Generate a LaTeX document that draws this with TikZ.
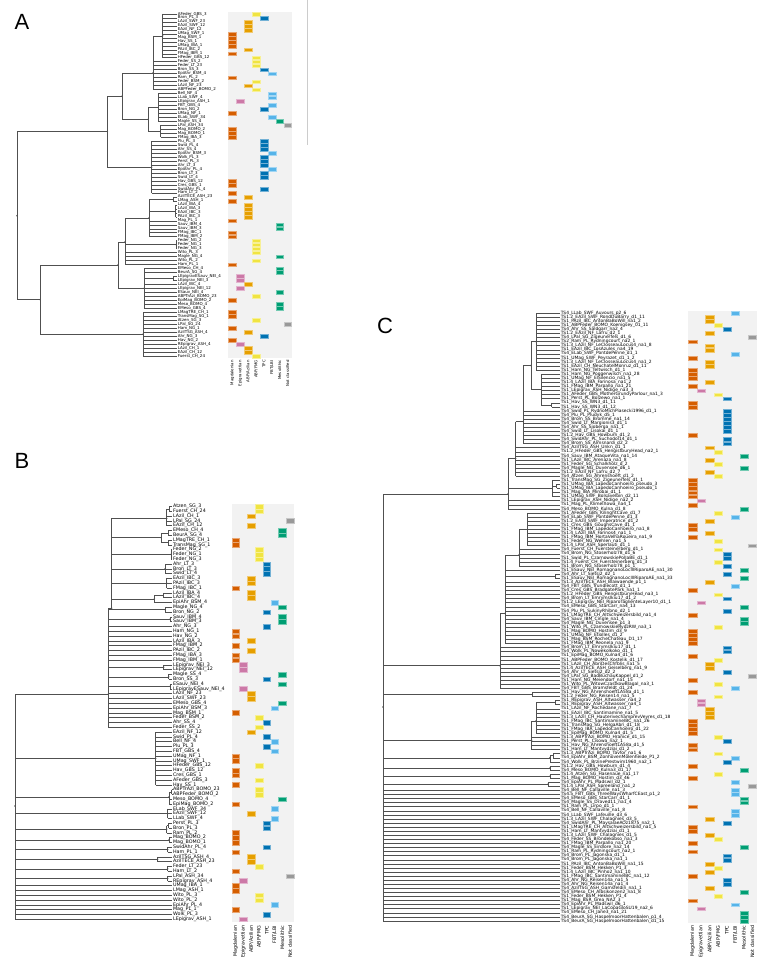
\documentclass[tikz,border=0pt]{standalone}
\usepackage{fontspec}
\setmainfont{DejaVu Sans}
\newfontfamily\letterfont{Liberation Sans}
\definecolor{hc1}{HTML}{D55E00}
\definecolor{hc2}{HTML}{CC79A7}
\definecolor{hc3}{HTML}{E69F00}
\definecolor{hc4}{HTML}{F0E442}
\definecolor{hc5}{HTML}{0072B2}
\definecolor{hc6}{HTML}{56B4E9}
\definecolor{hc7}{HTML}{009E73}
\definecolor{hc8}{HTML}{999999}
\definecolor{treec}{HTML}{505050}
\definecolor{hbg}{HTML}{F2F2F2}
\newcommand\lfA[3]{\foreach \k in {#2,...,#3}{\draw[tree] (#1,{yA(\k)}) -- (177,{yA(\k)});}}
\newcommand\lfB[3]{\foreach \k in {#2,...,#3}{\draw[tree] (#1,{yB(\k)}) -- (172.3,{yB(\k)});}}
\newcommand\lfC[3]{\foreach \k in {#2,...,#3}{\draw[tree] (#1,{yC(\k)}) -- (560,{yC(\k)});}}
\newcommand\grA[3]{\lfA{#1}{#2}{#3}\draw[tree] (#1,{yA(#2)}) -- (#1,{yA(#3)});}
\newcommand\grB[3]{\lfB{#1}{#2}{#3}\draw[tree] (#1,{yB(#2)}) -- (#1,{yB(#3)});}
\newcommand\grC[3]{\lfC{#1}{#2}{#3}\draw[tree] (#1,{yC(#2)}) -- (#1,{yC(#3)});}
\newcommand\vl[3]{\draw[tree] (#1,{#2}) -- (#1,{#3});}
\newcommand\hl[3]{\draw[tree] (#1,{#3}) -- (#2,{#3});}
\newcommand\jn[5]{\draw[tree] (#2,{#3}) -- (#1,{#3}) -- (#1,{#5}) -- (#4,{#5});}
\newcommand\dt[2]{\fill[treec] (#1,{#2}) circle (0.8);}
\begin{document}
\catcode`\_=12
\begin{tikzpicture}[x=1pt,y=-1pt,
  declare function={yA(\r)=12+3.977*(\r+0.5); yB(\r)=504+4.8*(\r+0.5); yC(\r)=311+4.08*(\r+0.5);},
  tree/.style={draw=treec, line width=0.5pt},
  labA/.style={anchor=west, inner sep=0.3pt, font=\fontsize{4}{4}\selectfont},
  labB/.style={anchor=west, inner sep=0.3pt, font=\fontsize{4.8}{4.8}\selectfont},
  labC/.style={anchor=west, inner sep=0.3pt, font=\fontsize{4.4}{4.4}\selectfont},
  colA/.style={rotate=90, anchor=east, inner sep=0pt, font=\fontsize{3.9}{3.9}\selectfont},
  colB/.style={rotate=90, anchor=east, inner sep=0pt, font=\fontsize{4.8}{4.8}\selectfont},
  panel/.style={font=\letterfont\fontsize{22}{22}\selectfont, inner sep=0pt}]
\useasboundingbox (0,0) rectangle (758,959);
\fill[white] (0,0) rectangle (758,959);
\draw[gray!40, line width=0.5pt] (307,0) -- (307,145);
% ---------------- panel letters
\node[panel] (pA) at (22,22) {A};
\node[panel] (pB) at (22,461) {B};
\node[panel] (pC) at (385,326) {C};
% ---------------- heatmap backgrounds
\fill[hbg] (228.3,12) rectangle (292.3,358);
\fill[hbg] (231.7,504) rectangle (294,921.6);
\fill[hbg] (688.3,311) rectangle (756.7,923);
% ---------------- panel A rows
\foreach \lab/\cc [count=\i from 0] in {AFeder_GBS_3/4, Bron_PL_3/5, LAzil_SWF_23/3, EAzil_SWF_12/3, EAzil_NF_12/3, UMag_SWF_1/1, Mag_BSM_1/1, Hav_SS_1/1, UMag_IBA_1/1, PAzil_IBC_2/3, FMag_IBM_1/1, HFeder_GBS_12/4, Feder_SS_2/4, Feder_LT_23/4, Bron_SS_3/5, EpiAhr_BSM_4/6, Ram_PL_2/1, Feder_BSM_2/4, LAzil_NF_23/3, ABPFeder_BOMO_2/4, Bell_NF_4/6, LLab_SWF_4/6, LEpigrav_ASH_1/2, FBT_GBS_4/6, Bron_NG_2/5, UMag_NF_1/1, ELab_SWF_34/6, Magle_SS_4/7, LPal_ASH_34/8, Mag_BOMO_2/1, Mag_BOMO_1/1, FMag_IBA_3/1, Plu_PL_3/5, Swid_PL_4/5, Ahr_SS_4/5, EpiAhr_BSM_3/6, Wolk_PL_3/5, Perst_PL_3/5, Ahr_LT_3/5, EpiAhr_PL_4/6, Bron_LT_3/5, Swid_LT_4/5, Hav_GBS_12/1, Cres_GBS_1/1, SwidAhr_PL_4/5, Ham_LT_2/1, AzilTECE_ASH_23/3, LMag_ASH_1/1, LAzil_IBA_4/3, LAzil_IBA_3/3, EAzil_IBC_3/3, PAzil_IBC_3/3, Mag_PL_1/1, Sauv_IBM_4/7, Sauv_IBM_3/7, FMag_IBC_1/1, FMag_IBM_2/1, Feder_NG_2/4, Feder_NG_1/4, Feder_NG_3/4, Wito_PL_3/4, Magle_NG_4/7, Wito_PL_2/4, Ham_PL_1/1, EMeso_CH_4/7, BeurA_SG_4/7, LEpigravESauv_NEI_4/2, LEpigrav_NEI_3/2, LAzil_IBC_4/3, LEpigrav_NEI_12/2, ESauv_NEI_4/7, ABPTrAzi_BOMO_23/4, EpiMag_BOMO_2/1, Meso_BOMO_4/7, EMeso_GBS_4/7, LMagTRE_CH_1/1, TransMag_SG_1/1, Atzen_SG_3/4, LPal_SG_24/8, Ham_NG_1/1, AzilTSG_ASH_4/3, Ahr_NG_3/5, Hav_NG_2/1, REpigrav_ASH_4/2, LAzil_CH_1/3, EAzil_CH_12/3, Fuerst_CH_24/4}{
  \node[labA] (a\i) at (177.3,{yA(\i)}) {\lab};
  \fill[hc\cc, draw=hc\cc!55!white, line width=0.3pt] ({228.3+7.92*(\cc-1)+0.15},{yA(\i)-1.85}) rectangle ++(7.62,3.7);
}
% ---------------- panel B rows
\foreach \lab/\cc [count=\i from 0] in {Atzen_SG_3/4, Fuerst_CH_24/4, LAzil_CH_1/3, LPal_SG_24/8, EAzil_CH_12/3, EMeso_CH_4/7, BeurA_SG_4/7, LMagTRE_CH_1/1, TransMag_SG_1/1, Feder_NG_2/4, Feder_NG_1/4, Feder_NG_3/4, Ahr_LT_3/5, Bron_LT_3/5, Swid_LT_4/5, EAzil_IBC_3/3, PAzil_IBC_3/3, FMag_IBC_1/1, LAzil_IBA_4/3, LAzil_IBC_4/3, EpiAhr_BSM_4/6, Magle_NG_4/7, Bron_NG_2/5, Sauv_IBM_4/7, Sauv_IBM_3/7, Ahr_NG_3/5, Ham_NG_1/1, Hav_NG_2/1, LAzil_IBA_3/3, FMag_IBM_2/1, PAzil_IBC_2/3, FMag_IBA_3/1, FMag_IBM_1/1, LEpigrav_NEI_3/2, LEpigrav_NEI_12/2, Magle_SS_4/7, Bron_SS_3/5, ESauv_NEI_4/7, LEpigravESauv_NEI_4/2, LAzil_NF_23/3, LAzil_SWF_23/3, EMeso_GBS_4/7, EpiAhr_BSM_3/6, Mag_BSM_1/1, Feder_BSM_2/4, Ahr_SS_4/5, Feder_SS_2/4, EAzil_NF_12/3, Swid_PL_4/5, Bell_NF_4/6, Plu_PL_3/5, FBT_GBS_4/6, UMag_NF_1/1, UMag_SWF_1/1, HFeder_GBS_12/4, Hav_GBS_12/1, Cres_GBS_1/1, AFeder_GBS_3/4, Hav_SS_1/1, ABPTrAzi_BOMO_23/4, ABPFeder_BOMO_2/4, Meso_BOMO_4/7, EpiMag_BOMO_2/1, ELab_SWF_34/6, EAzil_SWF_12/3, LLab_SWF_4/6, Perst_PL_3/5, Bron_PL_3/5, Ram_PL_2/1, Mag_BOMO_2/1, Mag_BOMO_1/1, SwidAhr_PL_4/5, Ham_PL_1/1, AzilTSG_ASH_4/3, AzilTECE_ASH_23/3, Feder_LT_23/4, Ham_LT_2/1, LPal_ASH_34/8, REpigrav_ASH_4/2, UMag_IBA_1/1, LMag_ASH_1/1, Wito_PL_3/4, Wito_PL_2/4, EpiAhr_PL_4/6, Mag_PL_1/1, Wolk_PL_3/5, LEpigrav_ASH_1/2}{
  \node[labB] (b\i) at (172.6,{yB(\i)}) {\lab};
  \fill[hc\cc, draw=hc\cc!55!white, line width=0.3pt] ({231.7+7.79*(\cc-1)+0.15},{yB(\i)-2.25}) rectangle ++(7.49,4.5);
}
% ---------------- panel C rows
\foreach \lab/\cc [count=\i from 0] in {TS4_LLab_SWF_Auvours_p2_6/6, TS1.2_EAzil_SWF_RondDuBarry_d1_11/3, TS1_PAzil_IBC_AntonBaBoWill_na1_2/3, TS1_ABPFeder_BOMO_Koenigsey_01_11/4, TS4_Ahr_SS_Saldgarr_na2_4/5, TS1.2_EAzil_NF_Lafru_d2_1/3, TS4_LPal_SG_Zigeunerfels_d1_6/8, TS2_Ram_PL_Rydningcourt_na2_1/1, TS1.3_LAzil_NF_LeClosseauLocus4_na1_8/3, TS1_EAzil_IBC_LosAzules_na4_19/3, TS4_ELab_SWF_PontdePenne_d1_1/6, TS1_UMag_SWF_Peyrazet_d1_1_2/1, TS1.3_LAzil_NF_LeClosseauLocus4_na1_2/3, TS1_EAzil_CH_NeuchatelMonruz_d1_11/3, TS1_Ham_NG_Teltwisch_d1_1/1, TS1_Ham_NG_Poggenwisch_na1_28/1, TS1_UMag_NF_ElSilencio_na1_5/1, TS1.4_LAzil_IBA_Farinosa_na1_2/3, TS1_FMag_IBM_Parpallo_na1_21/1, TS1_LEpigrav_ASH_Nidige_na3_3/2, TS1_AFeder_GBS_MotherGrundyParlour_na1_3/4, TS1_Perst_PL_Bolzewo_na1_1/5, TS1_Hav_SS_WN3_d1_11/1, TS1_Hav_SS_WN3_d1_12/1, TS4_Swid_PL_RydnoMichPiasecki1996_d1_1/5, TS4_Plu_PL_Pludyk_d5_1/5, TS4_Brom_SS_Bromme_na1_14/5, TS4_Swid_LT_Margionis3_d1_1/5, TS4_Ahr_SS_Sjoberga_na1_1/5, TS4_Swid_LT_Lisokai_d1_1/5, TS1.2_Hav_GBS_Howburn_d1_2/1, TS4_SwidAhr_PL_Suchodol14_d1_1/5, TS4_Brom_SS_Almsnardi_d2_2/5, TS4_AzilTSG_ASH_Unkn_d1_1/3, TS1.2_HFeder_GBS_HengistburyHead_na2_1/4, TS4_Sauv_IBM_AtaqueVita_na1_14/7, TS1_LAzil_IBC_Arenaza_na1_8/3, TS1_Feder_SG_Schalkholz_d_2/4, TS4_Magle_NG_Duvensee_d6_1/7, TS1.2_EAzil_NF_Lafru_d2_7/3, TS4_Atzen_SG_Ahrenshoeft_d1_2/4, TS1_TransMag_SG_Zigeunerfels_d1_1/1, TS1_UMag_IBA_LapedoCanhoeiro_pseudo_3/1, TS1_UMag_IBA_LapedoCanhoeiro_pseudo_1/1, TS1_Mag_IBA_Mirobai_d1_1/1, TS1_UMag_SWF_Bolsavelbin_d2_11/1, TS1_LEpigrav_ASH_Nidige_na2_2/2, TS1_Mag_PL_KlimelXowa_na4_1/1, TS4_Meso_BOMO_Kulna_d1_8/7, TS1_AFeder_GBS_KilinghtCave_d1_7/4, TS4_ELab_SWF_PontdePenne_d1_3/6, TS1.2_EAzil_SWF_Imperatrice_d1_2/3, TS1_Cres_GBS_GoughsCave_d1_1/1, TS1_FMag_IBM_LapedoCanhoeiro_na1_8/1, TS1.4_LAzil_IBA_Farinos4_na1_1/3, TS1_FMag_IBM_HortaVelhaRoueira_na1_9/1, TS1_Feder_NG_Wehlen_na1_5/4, TS1.4_LPal_ASH_Sperlauti_d1_1/8, TS4_Fuerst_CH_Fuersteinerberg_d1_1/4, TS4_Brom_NG_Stoserholz78_d1_6/5, TS1_Swid_PL_CzarnowskiePolJaBE_d1_1/5, TS1.4_Fuerst_CH_Fuersteinerberg_d1_3/4, TS1_Brom_NG_Stoserholz78_p1_1/5, TS1_ESauv_NEI_RomagnanoLocIIIRiparoAE_na1_30/7, TS4_Ahr_LT_Sietsj2_d2_1/5, TS1_ESauv_NEI_RomagnanoLocIIIRiparoAE_na1_33/7, TS1.3_AzilTECE_ASH_Blaiwaende_p1_1/3, TS4_FBT_GBS_Trundlecott_d1_1/6, TS4_Cres_GBS_BradgatePark_na1_1/1, TS1.2_HFeder_GBS_HengistburyHead_na3_1/4, TS4_Brom_LT_Emrymslkiu17_d1_2/5, TS1.2_LEpigrav_NEI_RiparoTaglienteLayer10_d1_1/2, TS4_EMeso_GBS_StarCarr_na4_13/7, TS4_Plu_PL_SukinyRhibno_d2_1/5, TS1_LMagTRE_CH_AltSchweizersbild_na1_4/1, TS4_Sauv_IBM_Cingle_na1_4/7, TS4_Magle_NG_Duvensee_p1_3/7, TS1_Wito_PL_CzarnowskieRydzRW_na3_1/4, TS1_Mag_BOMO_Hostim_d3_9/1, TS1_UMag_NF_Etiolles_d1_2/1, TS1_Mag_BSM_RocheChateau_D1_17/1, TS1_FMag_IBM_Reonela_na1_9/1, TS4_Brom_LT_Emrymslkiu17_d1_1/5, TS4_Wolk_PL_Nowekolkoko_d1_1/5, TS1_EpiMag_BOMO_Kulna4_d1_6/1, TS1_ABPFeder_BOMO_Kostelik_d1_17/4, TS1_LAzil_CH_AbriDesChfblis_na1_5/3, TS1.4_AzilTECE_ASH_Geiselberg_na1_9/3, TS4_Ahr_LT_Sietsj2_d2_2/5, TS4_LPal_SG_BadBuchauKappel_d1_2/8, TS1_Ham_NG_Meiendorf_na1_15/1, TS1_Wito_PL_WitowCzastkowBlagal_na3_1/4, TS4_FBT_GBS_Bramsfeldt_d1_24/6, TS1_Hav_NG_AhrenshoeftLA58a_d1_1/1, TS1.2_Feder_NG_Reisen14_na1_5/4, TS1_REpigrav_ASH_Altwasser_na4_2/2, TS1_REpigrav_ASH_Altwasser_na4_1/2, TS1_LAzil_NF_Rochedane_na1_7/3, TS1_EAzil_IBC_Santimamine_na1_5/3, TS1.3_LAzil_CH_HauterivechamprevVeyres_d1_18/3, TS1_FMag_IBC_SantimamineIBC_na1_26/1, TS1_TransMag_SG_HelgaAbri_d1_18/1, TS1_FMag_IBA_LapedoCanhoeiro_d1_22/1, TS1_EpiMag_BOMO_Kulna4_d1_5/1, TS1.3_ABPTrAzi_BOMO_Hranice_d1_15/4, TS1_Perst_PL_Cisowa_na2_1/5, TS1_Hav_NG_AhrenshoeftLA58a_d1_5/1, TS1_Ham_LT_Mantvydziai_d1_2/1, TS1.3_ABPTrAzi_BOMO_Tavfor_na1_6/4, TS4_EpiAhr_BSM_ZonhovenMolenheide_P1_2/6, TS4_Wolk_PL_BrzinePrestwim1960_na2_1/5, TS1.2_Hav_GBS_Howburn_d1_4/1, TS4_Meso_BOMO_Kulna3_d1_17/7, TS1.4_Atzen_SG_Hasenaue_na1_17/4, TS1_Mag_BOMO_Hostim_d3_46/1, TS4_EpiAhr_PL_Madswil_d2_1/6, TS1.4_LPal_ASH_Spreeland_na1_2/8, TS4_Bell_NF_Callaville_na1_3/6, TS4.5_FBT_GBS_ThreeWaysWharfCEast_p1_2/6, TS4_EMeso_GBS_StarCarr_d1_1/7, TS4_Magle_SS_Draved11_na1_4/7, TS1_Ram_PL_Lirpo_d1_1/1, TS4_Bell_NF_Callaville_na1_8/6, TS4_LLab_SWF_Lafeuille_d3_6/6, TS1.3_LAzil_SWF_Chalagnies_d3_5/3, TS4_SwidAhr_PL_MaysalaeAOz1875_na2_1/5, TS1_LMagTRE_CH_AltSchweizersbild_na1_5/1, TS1_Ham_LT_Mantvydziai_d1_1/1, TS1.3_LAzil_SWF_Chalagnies_d1_5/3, TS4_Feder_SS_Brondekobso_na1_3/4, TS1_FMag_IBM_Parpallo_na1_20/1, TS4_Magle_SS_Eirdlore_na2_14/7, TS1_Ram_PL_Rydningcourt_na2_1/1, TS4_Brom_PL_Jagonska_d1_1/5, TS4_Brom_PL_Jagonska_na1_1/5, TS1_PAzil_IBC_AntonBaBoWill_na1_15/3, TS1_Feder_BSM_Hekken_P1_3/4, TS1.4_LAzil_IBC_Pinho2_na1_10/3, TS1_FMag_IBC_SantimamineIBC_na1_12/1, TS4_Ahr_NG_Reisen14a_na1_5/5, TS4_Ahr_NG_Reisen14a_na1_4/5, TS4_AzilTSG_ASH_Gamsfeldin_na1_1/3, TS4_EMeso_CH_Albsikonzen2_na1_8/7, TS1_Feder_BSM_Hekken_P1_4/4, TS1_Mag_BSR_Grea_NA2_3/1, TS4_EpiAhr_PL_Madswil_d6_1/6, TS1_LEpigrav_NEI_LaCopaGloSU19_na2_6/2, TS4_EMeso_CH_Jane3_na1_21/7, TS4_BeurA_SG_HaspelmoorHattenbalen_p1_4/7, TS4_BeurA_SG_HaspelmoorHattenbalen_d1_15/7}{
  \node[labC] (c\i) at (560.3,{yC(\i)}) {\lab};
  \fill[hc\cc, draw=hc\cc!55!white, line width=0.3pt] ({688.3+8.55*(\cc-1)+0.15},{yC(\i)-1.9}) rectangle ++(8.25,3.8);
}
% ---------------- column labels
\foreach \n [count=\c] in {Magdalenian, Epigravettian, {ABP/Azilian}, {ABP/FMG}, TPC, {FBT/LBI}, Mesolithic, {Not classified}}{
  \node[colA] (ka\c) at ({228.3+7.92*(\c-0.5)},360) {\n};
  \node[colB] (kb\c) at ({231.7+7.79*(\c-0.5)},925.5) {\n};
  \node[colB] (kc\c) at ({688.3+8.55*(\c-0.5)},925.5) {\n};
}
% ================= tree A
\grA{162.7}{0}{11}
\lfA{153}{12}{19} \hl{153}{162.7}{yA(5.5)} \vl{153}{yA(5.5)}{yA(19)}
\grA{158}{20}{27}
\grA{160.7}{28}{31}
\jn{148}{158}{yA(23.5)}{160.7}{yA(29.5)}
\jn{122}{153}{73}{148}{yA(26.5)}
\grA{151.7}{32}{45}
\jn{107.3}{122}{96.2}{151.7}{yA(38.5)}
\grA{173.3}{46}{47}
\grA{175.7}{48}{51}
\jn{149}{173.3}{yA(46.5)}{175.7}{yA(49.5)} \lfA{149}{52}{56} \vl{149}{yA(49.5)}{yA(56)}
\grA{176}{57}{59}
\jn{125}{149}{yA(51.25)}{176}{yA(58)} \lfA{125}{60}{63} \vl{125}{yA(58)}{yA(63)}
\lfA{144}{64}{65} \grA{173.3}{66}{67} \hl{144}{173.3}{yA(66.5)} \lfA{144}{68}{74} \vl{144}{yA(64)}{yA(74)}
\jn{118}{125}{242}{144}{yA(69)}
\grA{143}{75}{86}
\jn{40}{118}{265}{143}{yA(80.5)}
\jn{17}{107.3}{131.7}{40}{299.6}
\foreach \p/\q in {162.7/{yA(5.5)}, 153/73, 148/{yA(26.5)}, 122/96.2, 107.3/131.7, 149/{yA(51.25)}, 125/242, 118/265, 144/{yA(69)}, 40/299.6, 17/215.7, 176/{yA(58)}, 151.7/{yA(38.5)}, 143/{yA(80.5)}}{\dt{\p}{\q}}
% ================= tree B
\grB{169}{0}{1} \hl{166.7}{169}{yB(0.5)} \lfB{166.7}{2}{4} \vl{166.7}{yB(0.5)}{yB(4)}
\grB{168}{5}{6} \grB{168}{7}{8} \jn{161}{168}{yB(5.5)}{168}{yB(7.5)}
\grB{171}{9}{11}
\grB{165}{12}{14}
\grB{166.7}{15}{17}
\grB{163}{18}{19} \jn{154.3}{163}{yB(18.5)}{172.3}{yB(20)}
\foreach \p/\q in {166.7/518.3, 161/{yB(6.5)}, 171/{yB(10)}, 165/{yB(13)}, 166.7/{yB(16)}, 154.3/{yB(19.25)}}{\hl{111.7}{\p}{\q}\dt{\p}{\q}}
\vl{111.7}{518.3}{608}
\hl{108.3}{111.7}{608}
\grB{165}{21}{22} \grB{170}{23}{24} \grB{163.7}{33}{34} \grB{168.7}{35}{36} \grB{170}{37}{38}
\foreach \p/\q in {165/{yB(21.5)}, 170/{yB(23.5)}, 163.7/{yB(33.5)}, 168.7/{yB(35.5)}, 170/{yB(37.5)}}{\hl{108.3}{\p}{\q}\dt{\p}{\q}}
\lfB{108.3}{25}{32} \lfB{108.3}{39}{46}
\vl{108.3}{608}{yB(46)}
\grB{155.7}{47}{58}
\grB{171.5}{59}{60} \hl{169}{171.5}{yB(59.5)} \lfB{169}{61}{62} \vl{169}{yB(59.5)}{yB(62)}
\grB{167.7}{63}{65}
\grB{168.7}{66}{67} \hl{166.7}{168.7}{yB(66.5)} \lfB{166.7}{68}{68} \vl{166.7}{yB(66.5)}{yB(68)}
\grB{169}{69}{70} \grB{167.7}{71}{72} \grB{157.7}{73}{74} \grB{167.7}{75}{76} \grB{167.7}{77}{78}
\foreach \p/\q in {108.3/694, 155.7/{yB(52.5)}, 169/{yB(60.5)}, 167.7/{yB(64)}, 166.7/{yB(67.25)}, 169/{yB(69.5)}, 167.7/{yB(71.5)}, 157.7/{yB(73.5)}, 167.7/{yB(75.5)}, 167.7/{yB(77.5)}}{\hl{15}{\p}{\q}\dt{\p}{\q}}
\lfB{15}{79}{86}
\vl{15}{694}{yB(86)}
\dt{111.7}{608} \dt{15}{806}
% ================= tree C
\grC{536}{0}{14}
\grC{551.7}{22}{23}
\lfC{541}{15}{21} \hl{541}{551.7}{yC(22.5)} \vl{541}{yC(15)}{yC(22.5)}
\jn{531}{536}{yC(7)}{541}{389.5}
\hl{523.3}{531}{365.5} \lfC{523.3}{24}{32} \vl{523.3}{365.5}{yC(32)}
\hl{515.7}{523.3}{421.7} \lfC{515.7}{33}{40} \vl{515.7}{421.7}{yC(40)}
\lfC{552}{41}{41} \grC{556.7}{42}{43} \hl{552}{556.7}{yC(42.5)} \lfC{552}{44}{45} \vl{552}{yC(41)}{yC(45)}
\hl{508}{515.7}{458.3} \hl{508}{552}{yC(43)} \lfC{508}{46}{48} \vl{508}{458.3}{yC(48)}
\grC{527.7}{49}{57}
\hl{519}{527.7}{yC(53)} \lfC{519}{58}{62} \vl{519}{yC(53)}{yC(62)}
\grC{555}{64}{65}
\hl{505}{519}{555} \lfC{505}{63}{63} \hl{505}{555}{yC(64.5)} \lfC{505}{66}{81} \vl{505}{555}{yC(81)}
\hl{500}{505}{613.3} \lfC{500}{82}{92} \vl{500}{613.3}{yC(92)}
\grC{532.3}{93}{94}
\grC{555}{95}{96}
\hl{536}{555}{yC(95.5)} \lfC{536}{97}{103} \vl{536}{yC(95.5)}{yC(103)}
\hl{531.7}{536}{721} \lfC{531.7}{104}{107} \vl{531.7}{721}{yC(107)}
\grC{553}{108}{109} \hl{550}{553}{yC(108.5)} \lfC{550}{110}{110} \vl{550}{yC(108.5)}{yC(110)}
\grC{550}{111}{112} \grC{550}{113}{114} \grC{548}{115}{116}
\foreach \p/\q in {508/494, 500/665.7, 532.3/{yC(93.5)}, 531.7/740, 550/{yC(109)}, 550/{yC(111.5)}, 550/{yC(113.5)}, 548/{yC(115.5)}}{\hl{383}{\p}{\q}\dt{\p}{\q}}
\lfC{383}{117}{149}
\vl{383}{494}{yC(149)}
\foreach \p/\q in {536/{yC(7)}, 531/365.5, 523.3/421.7, 515.7/458.3, 519/555, 505/613.3, 536/721, 383/707}{\dt{\p}{\q}}
\end{tikzpicture}
\end{document}
